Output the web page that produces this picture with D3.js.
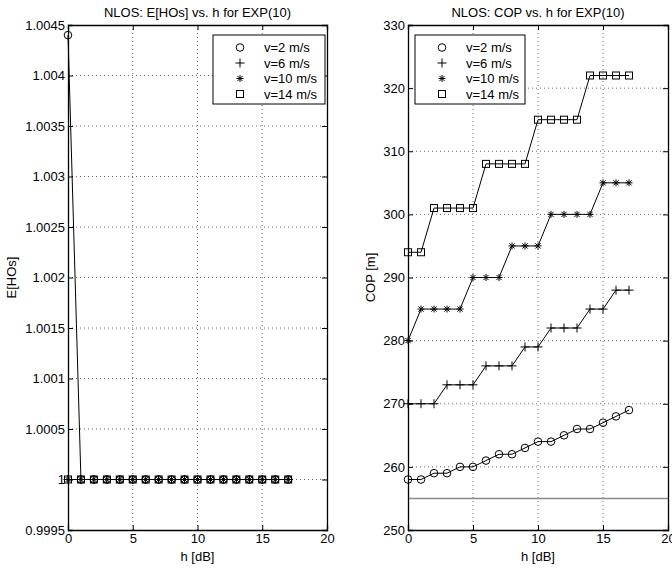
<!DOCTYPE html>
<html>
<head>
<meta charset="utf-8">
<script src="https://cdn.jsdelivr.net/npm/d3@7"></script>
<style>
  body { margin: 0; background: #fff; }
  svg { font-family: "Liberation Sans", Arial, sans-serif; }
  text { fill: #000; }
</style>
</head>
<body>
<svg id="chart" width="672" height="571"></svg>
<script>
// h values (x axis) shared by both panels
let hValues = [0, 1, 2, 3, 4, 5, 6, 7, 8, 9, 10, 11, 12, 13, 14, 15, 16, 17];

let seriesNames = ["v=2 m/s", "v=6 m/s", "v=10 m/s", "v=14 m/s"];
let markerTypes = ["circle", "plus", "star", "square"];

// left panel: E[HOs]
let hoV2  = [1.0044, 1, 1, 1, 1, 1, 1, 1, 1, 1, 1, 1, 1, 1, 1, 1, 1, 1];
let hoV6  = [1, 1, 1, 1, 1, 1, 1, 1, 1, 1, 1, 1, 1, 1, 1, 1, 1, 1];
let hoV10 = [1, 1, 1, 1, 1, 1, 1, 1, 1, 1, 1, 1, 1, 1, 1, 1, 1, 1];
let hoV14 = [1, 1, 1, 1, 1, 1, 1, 1, 1, 1, 1, 1, 1, 1, 1, 1, 1, 1];

// right panel: COP [m]
let copV2  = [258, 258, 259, 259, 260, 260, 261, 262, 262, 263, 264, 264, 265, 266, 266, 267, 268, 269];
let copV6  = [270, 270, 270, 273, 273, 273, 276, 276, 276, 279, 279, 282, 282, 282, 285, 285, 288, 288];
let copV10 = [280, 285, 285, 285, 285, 290, 290, 290, 295, 295, 295, 300, 300, 300, 300, 305, 305, 305];
let copV14 = [294, 294, 301, 301, 301, 301, 308, 308, 308, 308, 315, 315, 315, 315, 322, 322, 322, 322];
let copReference = 255;

let xTicks = [0, 5, 10, 15, 20];
let hoTicks = [0.9995, 1, 1.0005, 1.001, 1.0015, 1.002, 1.0025, 1.003, 1.0035, 1.004, 1.0045];
let copTicks = [250, 260, 270, 280, 290, 300, 310, 320, 330];

let svg = d3.select("#chart");
let fontSize = 13;
let plotTop = 25, plotBottom = 530;

drawPanel({
    left: 68, right: 327,
    title: "NLOS: E[HOs] vs. h for EXP(10)",
    yLabel: "E[HOs]", yLabelX: 16,
    yDomain: [0.9995, 1.0045], yTicks: hoTicks,
    series: [hoV2, hoV6, hoV10, hoV14],
    legend: { x: 213, y: 35, w: 112, h: 69 }
});

drawPanel({
    left: 408, right: 668,
    title: "NLOS: COP vs. h for EXP(10)",
    yLabel: "COP [m]", yLabelX: 375,
    yDomain: [250, 330], yTicks: copTicks,
    series: [copV2, copV6, copV10, copV14],
    reference: copReference,
    legend: { x: 415, y: 35, w: 110, h: 69 }
});

function drawPanel(p) {
    let x = d3.scaleLinear().domain([0, 20]).range([p.left, p.right]);
    let y = d3.scaleLinear().domain(p.yDomain).range([plotBottom, plotTop]);
    let g = svg.append("g");

    // dotted grid
    g.selectAll(".vgrid").data(xTicks.slice(1, -1)).enter()
        .append("line")
        .attr("x1", d => x(d)).attr("x2", d => x(d))
        .attr("y1", plotTop).attr("y2", plotBottom)
        .attr("stroke", "#444").attr("stroke-width", 0.8)
        .attr("stroke-dasharray", "1,3");
    g.selectAll(".hgrid").data(p.yTicks.slice(1, -1)).enter()
        .append("line")
        .attr("y1", d => y(d)).attr("y2", d => y(d))
        .attr("x1", p.left).attr("x2", p.right)
        .attr("stroke", "#444").attr("stroke-width", 0.8)
        .attr("stroke-dasharray", "1,3");

    if (p.reference !== undefined) {
        g.append("line")
            .attr("x1", x(0)).attr("x2", x(20))
            .attr("y1", y(p.reference)).attr("y2", y(p.reference))
            .attr("stroke", "#8a8a8a").attr("stroke-width", 1.5);
    }

    // axes, ticks pointing inward
    let fmt = d3.format("~g");
    g.append("g").attr("transform", "translate(0," + plotBottom + ")")
        .call(d3.axisBottom(x).tickValues(xTicks).tickSize(-5).tickPadding(4).tickFormat(fmt));
    g.append("g").attr("transform", "translate(0," + plotTop + ")")
        .call(d3.axisTop(x).tickValues(xTicks).tickSize(-5).tickFormat(""));
    g.append("g").attr("transform", "translate(" + p.left + ",0)")
        .call(d3.axisLeft(y).tickValues(p.yTicks).tickSize(-5).tickPadding(3).tickFormat(fmt));
    g.append("g").attr("transform", "translate(" + p.right + ",0)")
        .call(d3.axisRight(y).tickValues(p.yTicks).tickSize(-5).tickFormat(""));
    g.selectAll(".domain").attr("stroke", "#000").attr("stroke-width", 1.3);
    g.selectAll(".tick line").attr("stroke", "#000");
    g.selectAll(".tick text").style("font-size", fontSize + "px")
        .style("font-family", "Liberation Sans, Arial, sans-serif");

    // series lines + markers
    let line = d3.line().x((d, i) => x(hValues[i])).y(d => y(d));
    p.series.forEach(function(values, s) {
        g.append("path")
            .datum(values)
            .attr("d", line)
            .attr("fill", "none")
            .attr("stroke", "#000")
            .attr("stroke-width", 1);
        values.forEach(function(v, i) {
            drawMarker(g, markerTypes[s], x(hValues[i]), y(v));
        });
    });

    // title and labels
    svg.append("text")
        .text(p.title)
        .attr("x", (p.left + p.right) / 2)
        .attr("y", 17)
        .attr("text-anchor", "middle")
        .style("font-size", fontSize + "px");
    svg.append("text")
        .text("h [dB]")
        .attr("x", (p.left + p.right) / 2)
        .attr("y", 561)
        .attr("text-anchor", "middle")
        .style("font-size", fontSize + "px");
    svg.append("text")
        .text(p.yLabel)
        .attr("transform", "translate(" + p.yLabelX + "," + ((plotTop + plotBottom) / 2) + ") rotate(-90)")
        .attr("text-anchor", "middle")
        .style("font-size", fontSize + "px");

    // legend
    let lg = svg.append("g");
    lg.append("rect")
        .attr("x", p.legend.x).attr("y", p.legend.y)
        .attr("width", p.legend.w).attr("height", p.legend.h)
        .attr("fill", "#fff").attr("stroke", "#000").attr("stroke-width", 1);
    seriesNames.forEach(function(name, s) {
        let ly = p.legend.y + 12.5 + s * 15.5;
        drawMarker(lg, markerTypes[s], p.legend.x + 27, ly);
        lg.append("text")
            .text(name)
            .attr("x", p.legend.x + 51)
            .attr("y", ly)
            .attr("dy", "0.35em")
            .style("font-size", fontSize + "px");
    });
}

function drawMarker(g, type, cx, cy) {
    let m = g.append("g")
        .attr("fill", "none").attr("stroke", "#000").attr("stroke-width", 1);
    if (type == "circle") {
        m.append("circle").attr("cx", cx).attr("cy", cy).attr("r", 3.8);
    } else if (type == "plus") {
        m.append("path").attr("d", "M" + (cx - 4.5) + "," + cy + "H" + (cx + 4.5) +
            "M" + cx + "," + (cy - 4.5) + "V" + (cy + 4.5));
    } else if (type == "star") {
        let r = 3.5, k = 2.6;
        m.append("path").attr("d", "M" + (cx - r) + "," + cy + "H" + (cx + r) +
            "M" + cx + "," + (cy - r) + "V" + (cy + r) +
            "M" + (cx - k) + "," + (cy - k) + "L" + (cx + k) + "," + (cy + k) +
            "M" + (cx - k) + "," + (cy + k) + "L" + (cx + k) + "," + (cy - k));
    } else {
        m.append("rect").attr("x", cx - 3.5).attr("y", cy - 3.5)
            .attr("width", 7).attr("height", 7);
    }
}
</script>
</body>
</html>
